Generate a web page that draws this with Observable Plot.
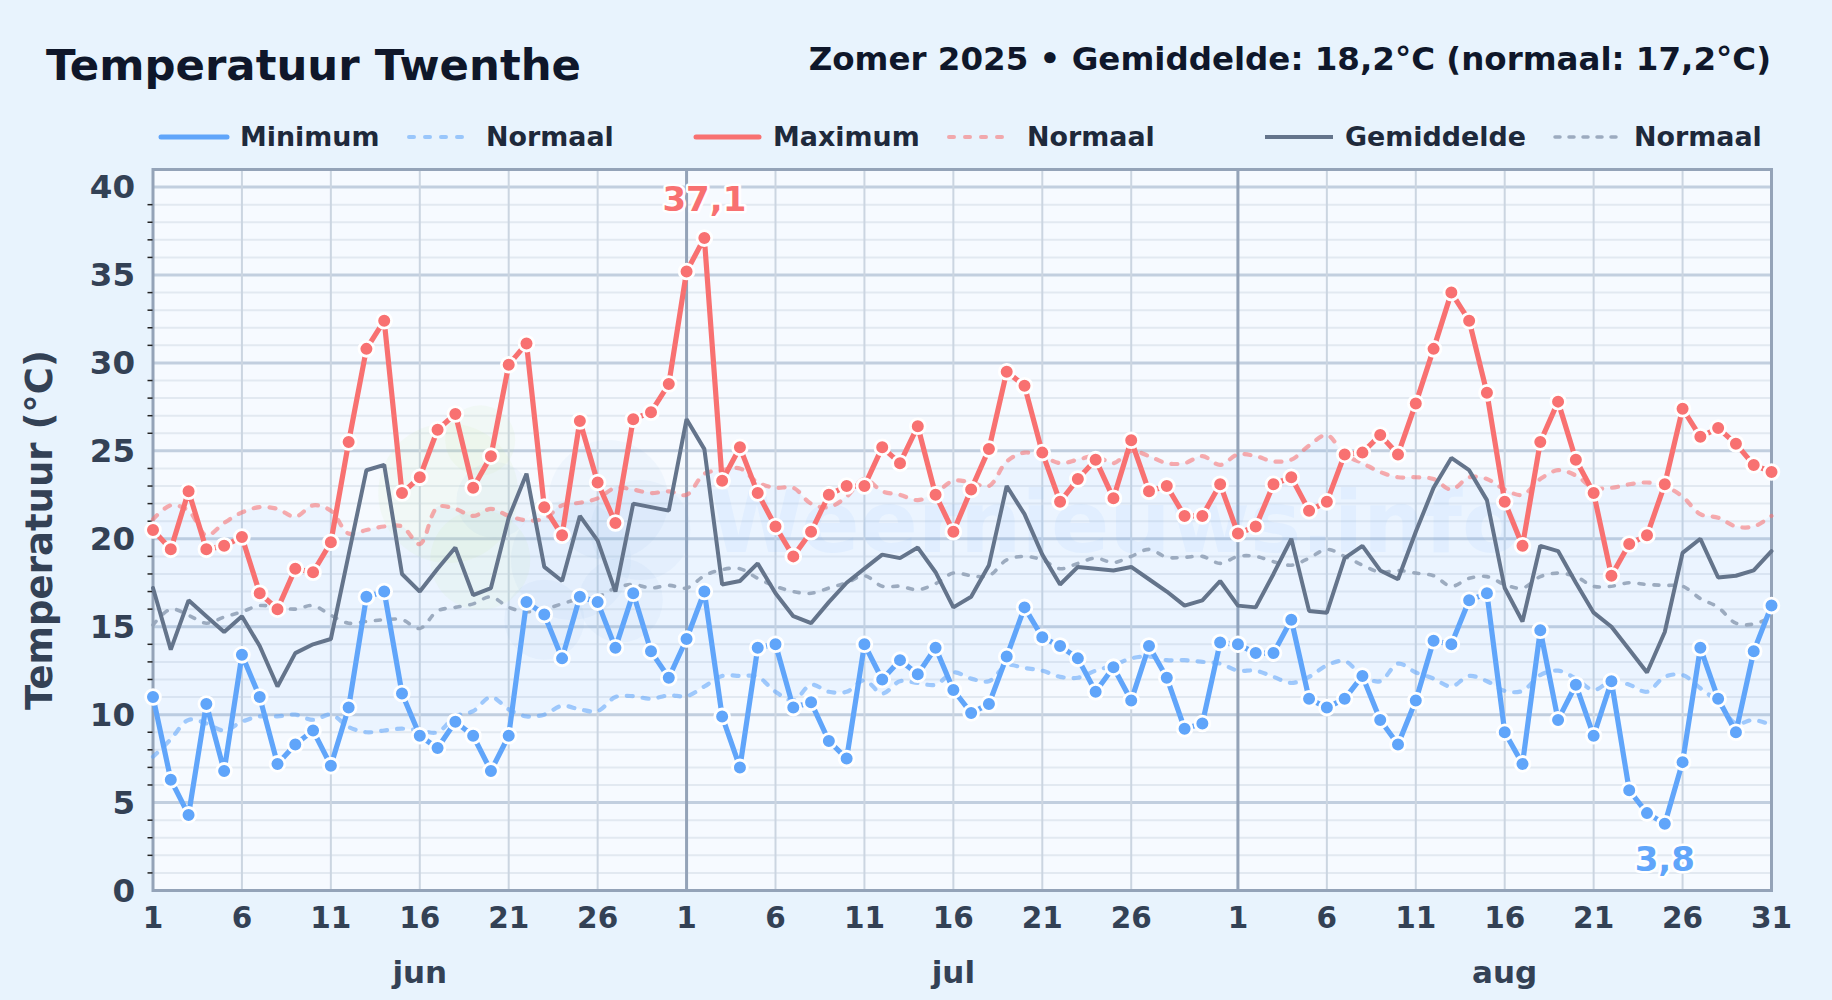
<!DOCTYPE html>
<html lang="nl">
<head>
<meta charset="utf-8">
<title>Temperatuur Twenthe</title>
<script src="https://cdn.jsdelivr.net/npm/d3@7"></script>
<script src="https://cdn.jsdelivr.net/npm/@observablehq/plot@0.6"></script>
<style>
html,body{margin:0;padding:0;width:1832px;height:1000px;overflow:hidden;background:#e8f3fd;font-family:"DejaVu Sans",sans-serif;font-weight:bold}
#title{position:absolute;left:46px;top:39px;font-size:43.4px;line-height:52px;color:#0f172a;white-space:nowrap}
#subtitle{position:absolute;right:61px;top:39px;font-size:32.5px;line-height:40px;color:#0f172a;white-space:nowrap}
.lg{position:absolute;top:119px;font-size:26.9px;line-height:36px;color:#1e293b;white-space:nowrap}
.sw{position:absolute;top:117px;height:40px}
#chart{position:absolute;left:0;top:150px}
</style>
</head>
<body>
<div id="title">Temperatuur Twenthe</div>
<div id="subtitle">Zomer 2025 • Gemiddelde: 18,2°C (normaal: 17,2°C)</div>
<div id="legend"></div>
<div id="chart"></div>
<script>
// Daily values, 1 June to 31 August 2025
const maxTemp = [
 20.5,19.4,22.7,19.4,19.6,20.1,16.9,16.0,18.3,18.1,19.8,25.5,30.8,32.4,22.6,23.5,26.2,27.1,22.9,24.7,29.9,31.1,21.8,20.2,26.7,23.2,20.9,26.8,27.2,28.8,
 35.2,37.1,23.3,25.2,22.6,20.7,19.0,20.4,22.5,23.0,23.0,25.2,24.3,26.4,22.5,20.4,22.8,25.1,29.5,28.7,24.9,22.1,23.4,24.5,22.3,25.6,22.7,23.0,21.3,21.3,23.1,
 20.3,20.7,23.1,23.5,21.6,22.1,24.8,24.9,25.9,24.8,27.7,30.8,34.0,32.4,28.3,22.1,19.6,25.5,27.8,24.5,22.6,17.9,19.7,20.2,23.1,27.4,25.8,26.3,25.4,24.2,23.8];
const minTemp = [
 11.0,6.3,4.3,10.6,6.8,13.4,11.0,7.2,8.3,9.1,7.1,10.4,16.7,17.0,11.2,8.8,8.1,9.6,8.8,6.8,8.8,16.4,15.7,13.2,16.7,16.4,13.8,16.9,13.6,12.1,
 14.3,17.0,9.9,7.0,13.8,14.0,10.4,10.7,8.5,7.5,14.0,12.0,13.1,12.3,13.8,11.4,10.1,10.6,13.3,16.1,14.4,13.9,13.2,11.3,12.7,10.8,13.9,12.1,9.2,9.5,14.1,
 14.0,13.5,13.5,15.4,10.9,10.4,10.9,12.2,9.7,8.3,10.8,14.2,14.0,16.5,16.9,9.0,7.2,14.8,9.7,11.7,8.8,11.9,5.7,4.4,3.8,7.3,13.8,10.9,9.0,13.6,16.2];
const avgTemp = [
 17.2,13.7,16.5,15.6,14.7,15.6,13.9,11.6,13.5,14.0,14.3,19.1,23.9,24.2,18.0,17.0,18.3,19.5,16.8,17.2,21.2,23.7,18.4,17.6,21.3,19.9,17.0,22.0,21.8,21.6,
 26.8,25.1,17.4,17.6,18.6,16.9,15.6,15.2,16.4,17.5,18.3,19.1,18.9,19.5,18.1,16.1,16.7,18.5,23.0,21.4,19.1,17.4,18.4,18.3,18.2,18.4,17.7,17.0,16.2,16.5,17.6,
 16.2,16.1,18.0,20.0,15.9,15.8,18.9,19.6,18.2,17.7,20.4,22.9,24.6,23.9,22.2,17.2,15.3,19.6,19.3,17.5,15.8,15.0,13.7,12.4,14.7,19.2,20.0,17.8,17.9,18.2,19.3];
const normMin = [
 7.6,8.6,9.7,9.5,9.1,9.6,9.9,9.9,10.0,9.7,10.0,9.3,9.0,9.1,9.2,9.1,9.0,9.9,10.2,11.0,10.3,9.9,10.0,10.5,10.3,10.2,11.0,11.05,10.9,11.1,
 11.05,11.6,12.2,12.2,12.15,11.3,10.8,11.7,11.3,11.3,11.95,11.2,11.9,11.8,11.7,12.4,12.05,11.9,12.8,12.65,12.5,12.15,12.1,12.5,12.8,13.2,13.3,13.1,13.1,13.0,12.9,
 12.5,12.5,12.15,11.8,12.15,12.8,13.05,12.2,11.9,12.9,12.4,12.05,11.6,12.2,11.9,11.35,11.35,12.25,12.5,12.05,11.4,11.9,11.7,11.3,12.15,12.25,11.5,10.7,9.5,9.7,9.4];
const normMax = [
 21.1,21.9,21.6,20.2,20.9,21.5,21.8,21.7,21.25,21.9,21.6,20.3,20.5,20.7,20.7,19.7,21.8,21.7,21.3,21.7,21.3,21.05,21.15,21.9,22.05,22.3,22.9,22.8,22.6,22.7,
 22.5,23.7,23.9,24.0,23.2,22.9,22.9,22.0,21.8,22.4,23.4,22.7,22.5,22.2,22.6,23.3,23.2,23.0,24.4,24.9,24.7,24.3,24.5,24.7,24.3,25.0,24.7,24.3,24.3,24.7,24.2,
 24.8,24.7,24.4,24.5,25.3,25.9,24.8,24.3,23.8,23.5,23.5,23.4,22.8,23.5,23.4,22.8,22.5,23.4,23.9,23.6,22.9,22.9,23.1,23.2,23.0,22.4,21.4,21.2,20.7,20.7,21.3];
const normAvg = [
 15.1,16.0,15.65,15.2,15.55,15.85,16.2,16.1,16.0,16.2,15.65,15.2,15.3,15.4,15.4,14.9,15.9,16.1,16.3,16.7,16.1,15.85,16.0,16.3,16.6,16.7,17.2,17.4,17.2,17.35,
 17.2,17.9,18.25,18.3,17.75,17.3,17.0,16.9,17.2,17.5,17.9,17.3,17.3,17.1,17.45,18.05,17.9,17.9,18.8,19.0,18.8,18.3,18.6,18.9,18.65,19.0,19.4,18.95,18.95,19.0,18.6,
 19.0,19.0,18.7,18.5,18.9,19.4,19.0,18.5,18.1,18.2,18.05,17.9,17.3,17.75,17.85,17.4,17.2,17.85,18.05,17.85,17.3,17.3,17.5,17.4,17.35,17.3,16.6,16.1,15.2,15.15,15.55];

const dayTickIndex = [0,5,10,15,20,25,30,35,40,45,50,55,61,66,71,76,81,86,91];
const dayTickLabel = ["1","6","11","16","21","26","1","6","11","16","21","26","1","6","11","16","21","26","31"];
const monthIndex = [15,45,76];
const monthLabel = ["jun","jul","aug"];
const monthStartIndex = [30,61];
const majorY = [0,5,10,15,20,25,30,35,40];
const minorY = d3.range(0,41).filter(v => v % 5 !== 0);

const days = d3.range(maxTemp.length);
const rows = days.map(i => ({i, max:maxTemp[i], min:minTemp[i], avg:avgTemp[i], nMin:normMin[i], nMax:normMax[i], nAvg:normAvg[i]}));
const hi = rows[d3.greatest(days, i => maxTemp[i])];
const lo = rows[d3.least(days, i => minTemp[i])];

const blue = "#60a5fa", red = "#f87171", grey = "#64748b", greyNorm = "#94a3b8";
const COMMA = v => v.toFixed(1).replace(".", ",");

// Faint watermark logo (sun and cloud) behind the curves
const sunX = [16.6,18.4,18.4], sunY = [22.6,18.8,25.6], sunR = [70,50,35];
const cloudX = [19.2,25.6,23.5,22,26.3,27.4], cloudY = [22.2,22.2,18.8,15.4,16.5,20.5], cloudR = [38,60,60,40,42,50];

const legendItems = [
 {t:"Minimum",  c:blue,     w:5,   d:null,   sx:161,  sw:66, lx:240,  o:1},
 {t:"Normaal",  c:blue,     w:4,   d:"5 11", sx:409,  sw:54, lx:486,  o:.58},
 {t:"Maximum",  c:red,      w:5,   d:null,   sx:696,  sw:63, lx:773,  o:1},
 {t:"Normaal",  c:red,      w:4,   d:"5 11", sx:949,  sw:54, lx:1027, o:.58},
 {t:"Gemiddelde",c:grey,    w:4,   d:null,   sx:1265, sw:68, lx:1345, o:1},
 {t:"Normaal",  c:greyNorm, w:3.5, d:"5 9",  sx:1555, sw:62, lx:1634, o:.9}
];
const lg = document.getElementById("legend");
legendItems.forEach(it => {
  const line = it.d ? `stroke-dasharray="${it.d}" stroke-linecap="round"` : (it.c === grey ? "" : `stroke-linecap="round"`);
  lg.insertAdjacentHTML("beforeend",
    `<svg class="sw" style="left:${it.sx-4}px" width="${it.sw+8}" height="40"><line x1="4" x2="${it.sw+4}" y1="20" y2="20" stroke="${it.c}" stroke-width="${it.w}" stroke-opacity="${it.o}" ${line}/></svg>` +
    `<span class="lg" style="left:${it.lx}px">${it.t}</span>`);
});

const xy = (key, o) => Plot.line(rows, {x:"i", y:key, ...o});
const dashed = {strokeWidth:4.2, strokeDasharray:"6,10", strokeLinecap:"round", curve:"catmull-rom"};
const dots = (key, c) => Plot.dot(rows, {x:"i", y:key, r:7.4, fill:c, stroke:"#fff", strokeWidth:2.8});
const blob = (xs, ys, rs, c, o) => xs.map((x,k) => Plot.dot([{x, y:ys[k]}], {x:"x", y:"y", r:rs[k], fill:c, fillOpacity:o, stroke:null}));

const chart = Plot.plot({
  width:1832, height:850,
  marginLeft:152.5, marginRight:61, marginTop:19, marginBottom:110,
  x:{domain:[0,91], type:"linear"},
  y:{domain:[0,41], type:"linear"},
  style:{fontFamily:"'DejaVu Sans',sans-serif", fontWeight:"bold", background:"transparent", overflow:"visible"},
  marks:[
    Plot.frame({fill:"#f6faff", stroke:null}),
    Plot.gridY(minorY, {stroke:"#e2e9f1", strokeOpacity:1, strokeWidth:2}),
    Plot.gridY(majorY, {stroke:"#c2cfdf", strokeOpacity:1, strokeWidth:3}),
    Plot.gridX(dayTickIndex, {stroke:"#cbd5e1", strokeOpacity:1, strokeWidth:2}),
    Plot.gridX(monthStartIndex, {stroke:"#94a3b8", strokeOpacity:1, strokeWidth:3}),
    Plot.areaY(rows, {x:"i", y1:"nMin", y2:"nMax", fill:"#60a5fa", fillOpacity:.07, curve:"catmull-rom"}),
    ...blob(sunX, sunY, sunR, "#c8e6a0", .09),
    ...blob(cloudX, cloudY, cloudR, "#7fa8e0", .06),
    Plot.text(["Weernieuws.info"], {x:54.1, y:20.8, text:d=>d, fontSize:86, fontWeight:"bold", fill:"#60a5fa", fillOpacity:.07, lineAnchor:"middle"}),
    Plot.frame({stroke:"#94a3b8", strokeWidth:3, fill:null}),
    Plot.axisY({ticks:minorY, tickSize:5, tickFormat:()=>"", stroke:"#222", label:null, strokeWidth:1.5}),
    Plot.axisY({ticks:majorY, tickSize:0, tickPadding:18, fontSize:32.5, fill:"#334155", label:null, dy:1}),
    Plot.axisX({ticks:dayTickIndex, tickSize:0, tickPadding:17, fontSize:29.5, fill:"#334155", label:null,
      tickFormat:v => dayTickLabel[dayTickIndex.indexOf(v)]}),
    Plot.axisX({ticks:monthIndex, tickSize:0, tickPadding:70, fontSize:31, fill:"#334155", label:null,
      tickFormat:v => monthLabel[monthIndex.indexOf(v)]}),
    Plot.text(["Temperatuur (°C)"], {frameAnchor:"left", textAnchor:"middle", rotate:-90, dx:-113, text:d=>d, fontSize:37, fill:"#334155"}),
    xy("nMin", {stroke:blue, strokeOpacity:.58, ...dashed}),
    xy("nMax", {stroke:red, strokeOpacity:.58, ...dashed}),
    xy("nAvg", {stroke:greyNorm, strokeOpacity:.9, ...dashed, strokeWidth:3.6, strokeDasharray:"5,10"}),
    xy("avg", {stroke:grey, strokeWidth:4, strokeLinejoin:"miter"}),
    xy("max", {stroke:red, strokeWidth:5.2}),
    xy("min", {stroke:blue, strokeWidth:5.2}),
    dots("max", red),
    dots("min", blue),
    Plot.text([hi], {x:"i", y:"max", text:d=>COMMA(d.max), dy:-38, fontSize:34, fill:red, stroke:"#fff", strokeWidth:5, paintOrder:"stroke", lineAnchor:"middle"}),
    Plot.text([lo], {x:"i", y:"min", text:d=>COMMA(d.min), dy:36, fontSize:34, fill:blue, stroke:"#fff", strokeWidth:5, paintOrder:"stroke", lineAnchor:"middle"})
  ]
});
document.getElementById("chart").appendChild(chart);
</script>
</body>
</html>
